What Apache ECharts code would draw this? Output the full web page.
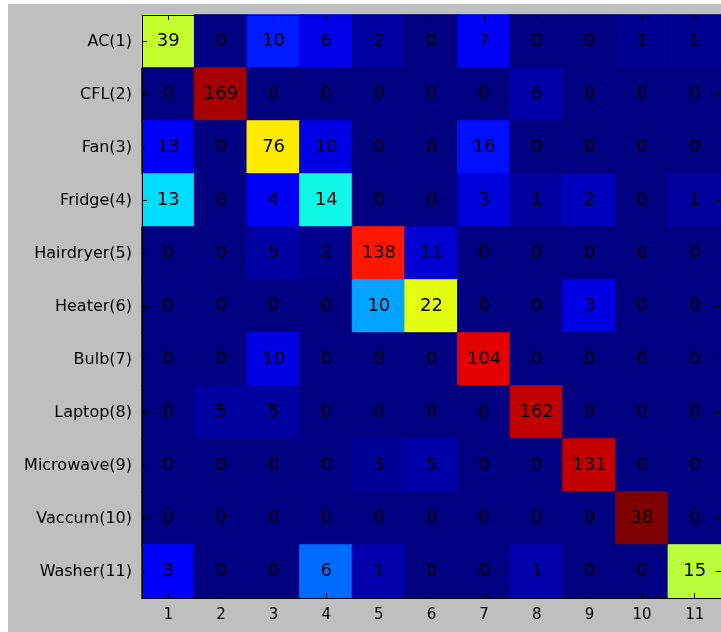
<!DOCTYPE html>
<html><head><meta charset="utf-8">
<script src="https://cdn.jsdelivr.net/npm/echarts@6/dist/echarts.min.js"></script>
<style>
html,body{margin:0;padding:0;background:#fff;width:721px;height:632px;overflow:hidden}
#c{position:absolute;left:8px;top:4px;width:713px;height:628px;background:#bfbfbf}
</style></head><body><div id="c"></div>
<script>
var rowLabels = ['AC(1)','CFL(2)','Fan(3)','Fridge(4)','Hairdryer(5)','Heater(6)','Bulb(7)','Laptop(8)','Microwave(9)','Vaccum(10)','Washer(11)'];
var colLabels = ['1','2','3','4','5','6','7','8','9','10','11'];
var rowAC        = [39,0,10,6,2,0,7,0,0,1,1];
var rowCFL       = [0,169,0,0,0,0,0,6,0,0,0];
var rowFan       = [13,0,76,10,0,0,16,0,0,0,0];
var rowFridge    = [13,0,4,14,0,0,3,1,2,0,1];
var rowHairdryer = [0,0,5,2,138,11,0,0,0,0,0];
var rowHeater    = [0,0,0,0,10,22,0,0,3,0,0];
var rowBulb      = [0,0,10,0,0,0,104,0,0,0,0];
var rowLaptop    = [0,5,5,0,0,0,0,162,0,0,0];
var rowMicrowave = [0,0,0,0,3,5,0,0,131,0,0];
var rowVaccum    = [0,0,0,0,0,0,0,0,0,38,0];
var rowWasher    = [3,0,0,6,1,0,0,1,0,0,15];
var matrix = [rowAC,rowCFL,rowFan,rowFridge,rowHairdryer,rowHeater,rowBulb,rowLaptop,rowMicrowave,rowVaccum,rowWasher];

function seg(pts, x){
  for (var i=1;i<pts.length;i++){
    if (x <= pts[i][0]) {
      var a=pts[i-1], b=pts[i];
      return a[1] + (b[1]-a[1])*(x-a[0])/(b[0]-a[0]);
    }
  }
  return pts[pts.length-1][1];
}
function jet(x){
  var r = seg([[0,0],[0.35,0],[0.66,1],[0.89,1],[1,0.5]], x);
  var g = seg([[0,0],[0.125,0],[0.375,1],[0.64,1],[0.91,0],[1,0]], x);
  var b = seg([[0,0.5],[0.11,1],[0.34,1],[0.65,0],[1,0]], x);
  return 'rgb('+Math.round(r*255)+','+Math.round(g*255)+','+Math.round(b*255)+')';
}
var jetColors = [];
for (var k=0;k<=200;k++) jetColors.push(jet(k/200));

var data = [];
matrix.forEach(function(row, i){
  var s = row.reduce(function(a,b){return a+b;},0);
  row.forEach(function(v, j){
    var n = v/s;
    data.push({value:[j, i, n, v], itemStyle:{borderColor:jet(n), borderWidth:1}});
  });
});

var font = 'DejaVu Sans';
var tick = {show:true, inside:true, length:5, alignWithLabel:true, lineStyle:{color:'#000', width:1}};
var line = {show:true, lineStyle:{color:'#000', width:1}};
var chart = echarts.init(document.getElementById('c'), null, {renderer:'canvas'});
chart.setOption({
  animation:false,
  backgroundColor:'#bfbfbf',
  grid:{left:134, top:11, width:582, height:583},
  xAxis:[
    {type:'category', data:colLabels, position:'bottom', z:10, axisLine:line, axisTick:tick,
     axisLabel:{color:'#000', fontSize:15, fontFamily:font, margin:10}, splitLine:{show:false}},
    {type:'category', data:colLabels, position:'top', z:10, axisLine:line, axisTick:tick,
     axisLabel:{show:false}, splitLine:{show:false}}
  ],
  yAxis:[
    {type:'category', data:rowLabels, inverse:true, position:'left', z:10, axisLine:line, axisTick:tick,
     axisLabel:{color:'#000', fontSize:16, fontFamily:font, margin:10}, splitLine:{show:false}},
    {type:'category', data:rowLabels, inverse:true, position:'right', z:10, axisLine:line, axisTick:tick,
     axisLabel:{show:false}, splitLine:{show:false}}
  ],
  visualMap:{show:false, type:'continuous', min:0, max:1, dimension:2, seriesIndex:0, inRange:{color:jetColors}},
  series:[{
    type:'heatmap', xAxisIndex:0, yAxisIndex:0, data:data,
    label:{show:true, color:'#000', fontSize:18, fontFamily:font, formatter:function(p){return p.value[3];}},
    emphasis:{disabled:true}
  }]
});
</script></body></html>
